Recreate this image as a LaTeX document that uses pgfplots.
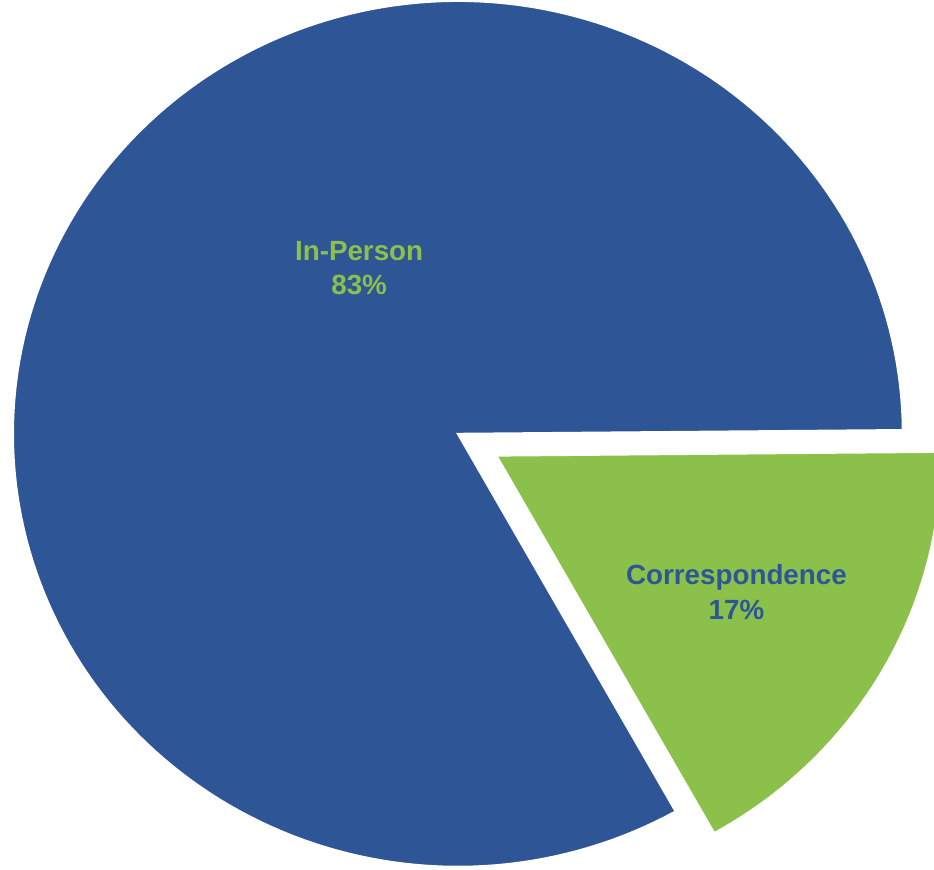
\documentclass[border=0pt]{standalone}
\usepackage{pgfplots}
\usepackage{pgfplotstable}
\pgfplotsset{compat=1.18}
\usepackage{fontspec}
\setmainfont{Liberation Sans}

\definecolor{pieblue}{HTML}{2E5596}
\definecolor{piegreen}{HTML}{8BC14A}

\pgfplotstableread{
label value
In-Person 83
Correspondence 17
}\piedata

\pgfplotstablegetelem{0}{value}\of\piedata \let\vA\pgfplotsretval
\pgfplotstablegetelem{1}{value}\of\piedata \let\vB\pgfplotsretval

% angles of the two slices
\pgfmathsetmacro\sA{0.5}
\pgfmathsetmacro\eA{\sA+3.6*\vA}
\pgfmathsetmacro\eB{\sA-3.6*\vB}
\pgfmathsetmacro\mB{\sA-1.8*\vB}
\pgfmathsetmacro\dx{0.1*cos(\mB)}
\pgfmathsetmacro\dy{0.1*sin(\mB)}

\begin{document}
\begin{tikzpicture}
\begin{axis}[
  hide axis,
  scale only axis,
  width=9.34cm, height=8.69cm,
  xmin=-1.029, xmax=1.070,
  ymin=-1.005, ymax=1.002,
  clip=true,
]
% In-Person
\addplot[fill=pieblue, draw=white, line width=0.6pt, domain=\sA:\eA, samples=200]
  ({cos(x)}, {sin(x)}) -- (0,0) -- cycle;
% Correspondence, pulled out
\addplot[fill=piegreen, draw=white, line width=0.6pt, domain=\eB:\sA, samples=80]
  ({\dx+cos(x)}, {\dy+sin(x)}) -- (\dx,\dy) -- cycle;

\node[align=center, text=piegreen, font=\fontsize{7.9}{9.8}\selectfont\bfseries]
  at (-0.222,0.383) {In-Person\\83\%};
\node[align=center, text=pieblue, font=\fontsize{7.9}{9.8}\selectfont\bfseries]
  at (0.626,-0.365) {Correspondence\\17\%};

\coordinate (BL) at (rel axis cs:0,0);
\coordinate (TR) at (rel axis cs:1,1);
\end{axis}
\pgfresetboundingbox
\path (BL) rectangle (TR);
\end{tikzpicture}
\end{document}
